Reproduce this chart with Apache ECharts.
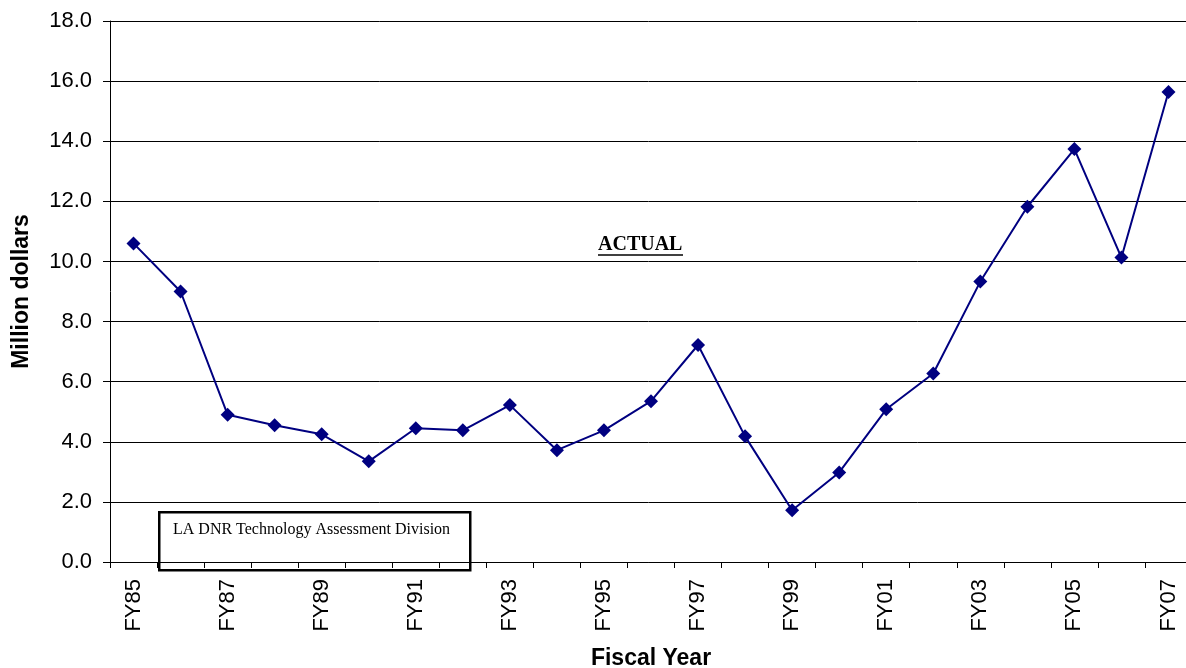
<!DOCTYPE html>
<html>
<head>
<meta charset="utf-8">
<script src="https://cdn.jsdelivr.net/npm/echarts@6/dist/echarts.min.js"></script>
<style>html,body{margin:0;padding:0;background:#fff;overflow:hidden}#c{width:1186px;height:668px}</style>
</head>
<body>
<div id="c"></div>
<script>
var categories = ['FY85','FY86','FY87','FY88','FY89','FY90','FY91','FY92','FY93','FY94','FY95','FY96','FY97','FY98','FY99','FY00','FY01','FY02','FY03','FY04','FY05','FY06','FY07'];
var actualValues = [10.6, 9.0, 4.9, 4.55, 4.25, 3.35, 4.45, 4.38, 5.22, 3.72, 4.38, 5.35, 7.22, 4.18, 1.72, 2.98, 5.08, 6.27, 9.33, 11.82, 13.74, 10.13, 15.64];
var yAxisName = 'Million dollars';
var xAxisName = 'Fiscal Year';
var seriesLabel = 'ACTUAL';
var sourceNote = 'LA DNR Technology Assessment Division';

var chart = echarts.init(document.getElementById('c'), null, {renderer: 'canvas'});
chart.setOption({
  animation: false,
  backgroundColor: '#ffffff',
  grid: {left: 110, top: 21, width: 1082, height: 541, containLabel: false, outerBoundsMode: 'none'},
  xAxis: {
    type: 'category',
    data: categories,
    boundaryGap: true,
    name: xAxisName,
    nameLocation: 'middle',
    nameGap: 85,
    nameTextStyle: {fontFamily: 'Liberation Sans, Arial', fontWeight: 'bold', fontSize: 23, color: '#000', verticalAlign: 'top'},
    axisLine: {lineStyle: {color: '#000', width: 1}},
    axisTick: {show: true, interval: 0, length: 6, lineStyle: {color: '#000'}},
    axisLabel: {interval: 1, rotate: 90, margin: 17, fontFamily: 'Liberation Sans, Arial', fontSize: 22, color: '#000'},
    splitLine: {show: false}
  },
  yAxis: {
    type: 'value',
    min: 0, max: 18, interval: 2,
    name: yAxisName,
    nameLocation: 'middle',
    nameGap: 88,
    nameRotate: 90,
    nameTextStyle: {fontFamily: 'Liberation Sans, Arial', fontWeight: 'bold', fontSize: 23, color: '#000', verticalAlign: 'middle'},
    axisLine: {show: true, lineStyle: {color: '#000', width: 1}},
    axisTick: {show: true, length: 7, lineStyle: {color: '#000'}},
    axisLabel: {margin: 18, fontFamily: 'Liberation Sans, Arial', fontSize: 22, color: '#000', formatter: function(v){return v.toFixed(1);}},
    splitLine: {show: true, lineStyle: {color: '#000', width: 1}}
  },
  series: [{
    type: 'line',
    name: seriesLabel,
    data: actualValues,
    symbol: 'diamond',
    symbolSize: 14,
    lineStyle: {color: '#000080', width: 2},
    itemStyle: {color: '#000080'}
  }],
  graphic: [
    {type: 'rect', left: 158, top: 511, shape: {width: 311, height: 58}, style: {fill: 'rgba(0,0,0,0)', stroke: '#000', lineWidth: 2.5}, z: 100},
    {type: 'text', left: 173, top: 522, style: {text: sourceNote, fontFamily: 'Liberation Serif, Times New Roman', fontSize: 16, fill: '#000'}, z: 101},
    {type: 'text', left: 598, top: 235, style: {text: seriesLabel, fontFamily: 'Liberation Serif, Times New Roman', fontWeight: 'bold', fontSize: 20, fill: '#000'}, z: 101},
    {type: 'line', shape: {x1: 598, y1: 255, x2: 683, y2: 255}, style: {stroke: '#000', lineWidth: 1.5}, z: 101}
  ]
});
</script>
</body>
</html>
